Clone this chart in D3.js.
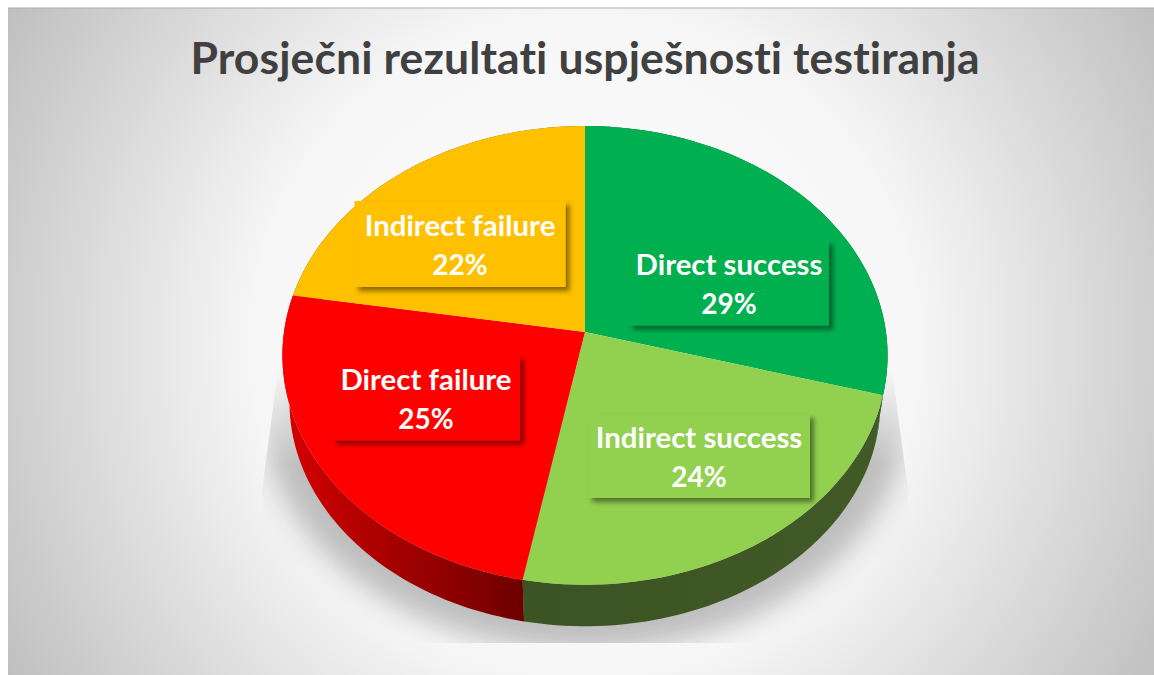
<!DOCTYPE html>
<html>
<head>
<meta charset="utf-8">
<script src="https://cdn.jsdelivr.net/npm/d3@7"></script>
<style>
  html, body { margin: 0; padding: 0; background: #fff; }
  svg { display: block; }
  text { font-family: Lato, "Open Sans", sans-serif; font-weight: 700; font-variant-ligatures: none; }
</style>
</head>
<body>
<svg id="chart" width="1154" height="675"></svg>
<script>
const categories = ["Direct success", "Indirect success", "Direct failure", "Indirect failure"]
const shares = [29, 24, 25, 22]
const sliceColors = ["#00b050", "#92d050", "#ff0000", "#ffc000"]
const wallColors = [["#00602c", "#00602c"], ["#3c5323", "#415a26"], ["#d40000", "#6e0000"], ["#7f6000", "#7f6000"]]
const chartTitle = "Prosječni rezultati uspješnosti testiranja"

// label centres and box sizes, by category
const labelSpots = [
  {x: 729, y: 283, w: 200, h: 85},
  {x: 699, y: 456, w: 222, h: 84},
  {x: 426, y: 398, w: 188, h: 85},
  {x: 460, y: 244, w: 211, h: 86}
]

const svg = d3.select("#chart")
const defs = svg.append("defs")

let bg = defs.append("radialGradient")
  .attr("id", "bg")
  .attr("gradientUnits", "userSpaceOnUse")
  .attr("cx", 585).attr("cy", 345).attr("r", 668)
bg.append("stop").attr("offset", 0).attr("stop-color", "#ffffff")
bg.append("stop").attr("offset", 0.5).attr("stop-color", "#f6f6f6")
bg.append("stop").attr("offset", 1).attr("stop-color", "#bfbfbf")

// the red wall spans x 285..523, the green one 523..885
const wallSpans = [[523, 885], [523, 885], [285, 523], [285, 523]]
wallColors.forEach((c, i) => {
  let g = defs.append("linearGradient")
    .attr("id", "wall" + i)
    .attr("gradientUnits", "userSpaceOnUse")
    .attr("x1", wallSpans[i][0]).attr("x2", wallSpans[i][1])
    .attr("y1", 0).attr("y2", 0)
  g.append("stop").attr("offset", 0).attr("stop-color", c[0])
  g.append("stop").attr("offset", 1).attr("stop-color", c[1])
})

defs.append("filter").attr("id", "soft")
  .attr("x", "-20%").attr("y", "-20%").attr("width", "140%").attr("height", "140%")
  .append("feGaussianBlur").attr("stdDeviation", 14)

defs.append("filter").attr("id", "boxShadow")
  .attr("x", "-10%").attr("y", "-10%").attr("width", "125%").attr("height", "125%")
  .append("feDropShadow")
  .attr("dx", 4).attr("dy", 4).attr("stdDeviation", 2.5)
  .attr("flood-color", "#000").attr("flood-opacity", 0.45)

let shadowFade = defs.append("linearGradient")
  .attr("id", "shadowFade")
  .attr("x1", 0).attr("x2", 0).attr("y1", 0).attr("y2", 1)
shadowFade.append("stop").attr("offset", 0).attr("stop-color", "#fff").attr("stop-opacity", 0)
shadowFade.append("stop").attr("offset", 0.35).attr("stop-color", "#fff").attr("stop-opacity", 1)
shadowFade.append("stop").attr("offset", 1).attr("stop-color", "#fff").attr("stop-opacity", 1)
defs.append("mask").attr("id", "shadowMask")
  .attr("maskUnits", "userSpaceOnUse")
  .attr("x", 0).attr("y", 0).attr("width", 1154).attr("height", 675)
  .append("path")
  .attr("d", "M278,370L892,370L908,490L908,643L262,643L262,490Z")
  .attr("fill", "url(#shadowFade)")

// panel
svg.append("rect")
  .attr("x", 8).attr("y", 8)
  .attr("width", 1146).attr("height", 667)
  .attr("fill", "url(#bg)")
svg.append("line")
  .attr("x1", 8).attr("x2", 1154).attr("y1", 8).attr("y2", 8)
  .attr("stroke", "#b0b0b0")

// tilted disc: v grows towards the viewer, k is the perspective strength
const k = 0.102
const topDisc = {cx: 585, cy: 332, rx: 301, ry: 227}
const lowDisc = {cx: 585, cy: 379, rx: 294, ry: 222}

function project(disc, angle) {
  let s = Math.sin(angle)
  let a = angle + 0.025 * s * Math.abs(s)
  let u = Math.sin(a), v = -Math.cos(a), w = 1 - k * v
  return [disc.cx + disc.rx * u / w, disc.cy + disc.ry * v / w]
}

function rim(disc, a0, a1) {
  return d3.range(0, 61).map(i => project(disc, a0 + (a1 - a0) * i / 60))
}

const line = d3.line()
const arcs = d3.pie().sort(null)(shares)

// ground shadow
svg.append("g").attr("mask", "url(#shadowMask)")
  .append("path")
  .attr("d", line(rim({cx: 585, cy: 384, rx: 322, ry: 240}, 0, 2 * Math.PI)) + "Z")
  .attr("fill", "#8f8f8f")
  .attr("opacity", 0.55)
  .attr("filter", "url(#soft)")

// side walls, only the part the viewer sees
svg.append("g").selectAll("path")
  .data(arcs).enter()
  .append("path")
  .attr("d", d => line(rim(topDisc, d.startAngle, d.endAngle)
    .concat(rim(lowDisc, d.startAngle, d.endAngle).reverse())) + "Z")
  .attr("fill", (d, i) => `url(#wall${i})`)

// top face
svg.append("g").selectAll("path")
  .data(arcs).enter()
  .append("path")
  .attr("d", d => line([[topDisc.cx, topDisc.cy]]
    .concat(rim(topDisc, d.startAngle, d.endAngle))) + "Z")
  .attr("fill", (d, i) => sliceColors[i])

// title
svg.append("text")
  .attr("x", 585).attr("y", 74)
  .attr("text-anchor", "middle")
  .attr("font-size", 44.5)
  .attr("textLength", 789)
  .attr("fill", "#404040")
  .text(chartTitle)

// data labels
let labels = svg.append("g").selectAll("g")
  .data(categories).enter()
  .append("g")
  .attr("transform", (d, i) => `translate(${labelSpots[i].x},${labelSpots[i].y})`)

labels.append("rect")
  .attr("x", (d, i) => -labelSpots[i].w / 2)
  .attr("y", (d, i) => -labelSpots[i].h / 2)
  .attr("width", (d, i) => labelSpots[i].w)
  .attr("height", (d, i) => labelSpots[i].h)
  .attr("fill", (d, i) => sliceColors[i])
  .attr("filter", "url(#boxShadow)")

labels.append("text")
  .attr("text-anchor", "middle")
  .attr("y", -8)
  .attr("font-size", 29.4)
  .attr("fill", "#fff")
  .text(d => d)

labels.append("text")
  .attr("text-anchor", "middle")
  .attr("y", 31)
  .attr("font-size", 28)
  .attr("fill", "#fff")
  .text((d, i) => shares[i] + "%")
</script>
</body>
</html>
